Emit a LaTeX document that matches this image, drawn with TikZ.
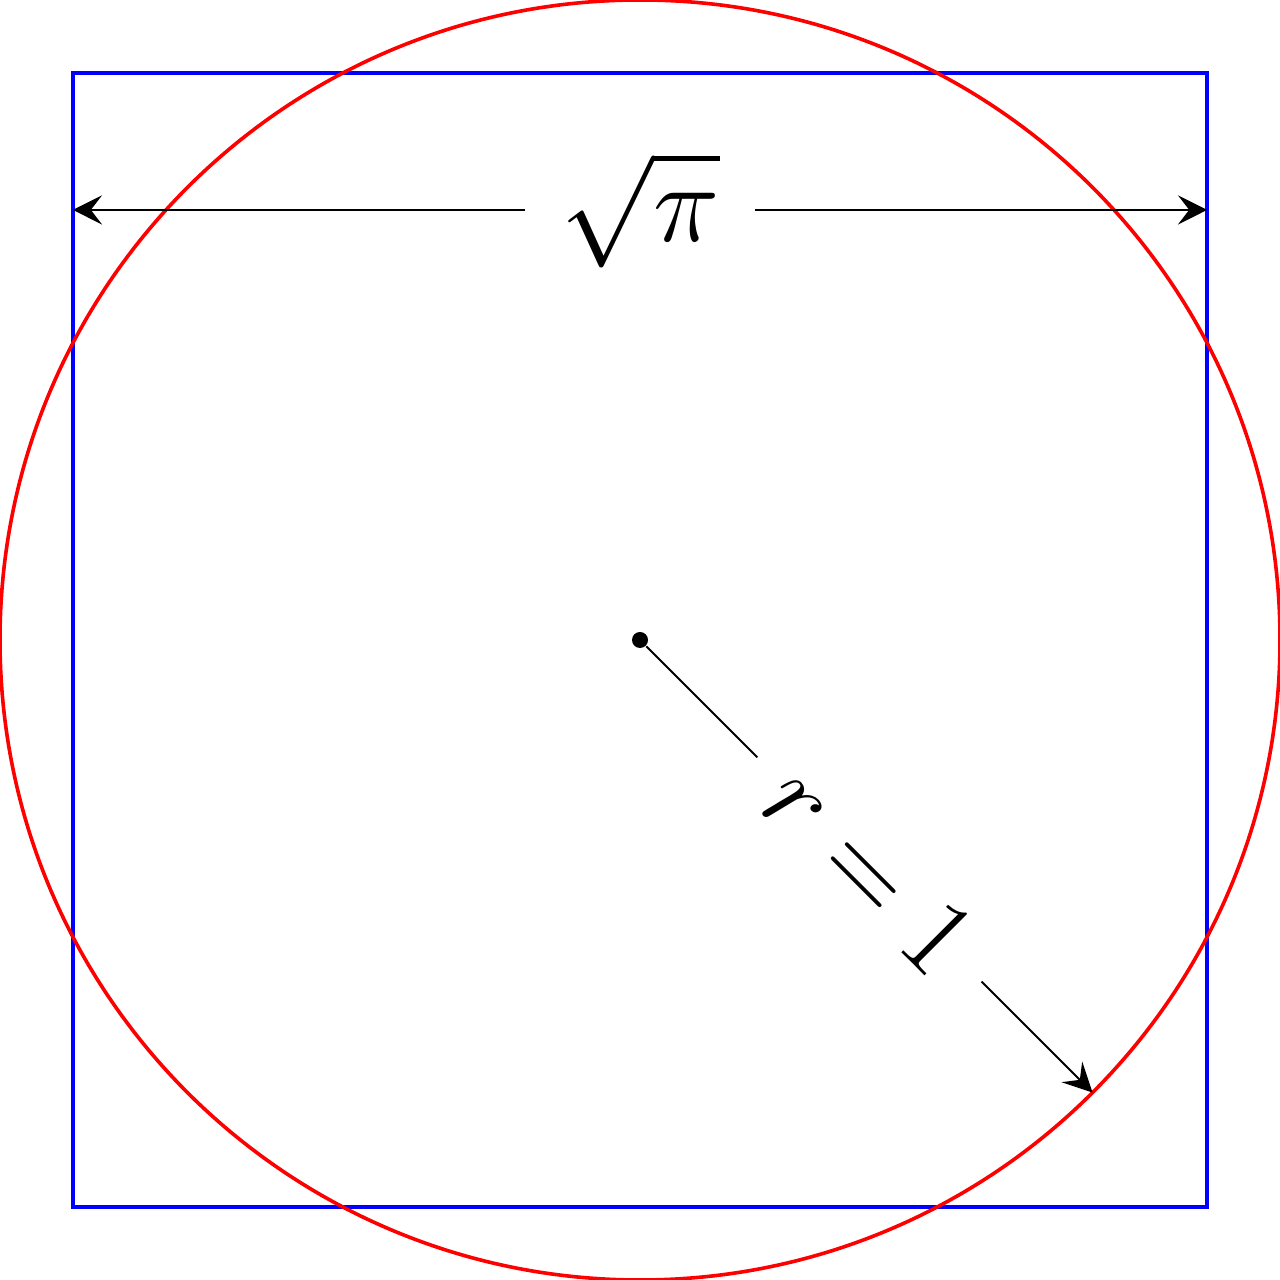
\documentclass[tikz,border=0pt]{standalone}
\usepackage{amsmath,amssymb}
\usetikzlibrary{arrows.meta}
\pgfdeclarelayer{nodelayer}
\pgfdeclarelayer{edgelayer}
\pgfsetlayers{edgelayer,nodelayer,main}
\tikzstyle{none}=[inner sep=-1pt]
\tikzset{dot/.style={fill=black, circle, inner sep=0pt, minimum size=.125cm}}
\tikzset{lbl/.style={fill=white, font=\Huge, inner sep=7.8pt}}
\tikzset{stl/.tip={Stealth[length=6.5pt, width=6.5pt, inset=2.5pt]}}
\begin{document}
\begin{tikzpicture}
        \useasboundingbox (-5, -5) rectangle (5, 5);
        \begin{pgfonlayer}{nodelayer}
            \node [style=dot] (0) at (0, 0) {};
            \coordinate (1) at (-45:5);
            \coordinate (2) at (-4.431, 3.36);
            \coordinate (3) at (4.431, 3.36);
        \end{pgfonlayer}
        \begin{pgfonlayer}{edgelayer}
            \draw [thick, color=blue] (-4.431, -4.431) rectangle (4.431, 4.431);
            \draw [thick, color=red] (0) circle (5);
            \draw [stl-stl] (2) to node [style=lbl] {$\sqrt{\pi}$} (3);
            \draw [-stl] (0) to node [style=lbl, sloped] {$r = 1$} (1);
        \end{pgfonlayer}
    \end{tikzpicture}
\end{document}
